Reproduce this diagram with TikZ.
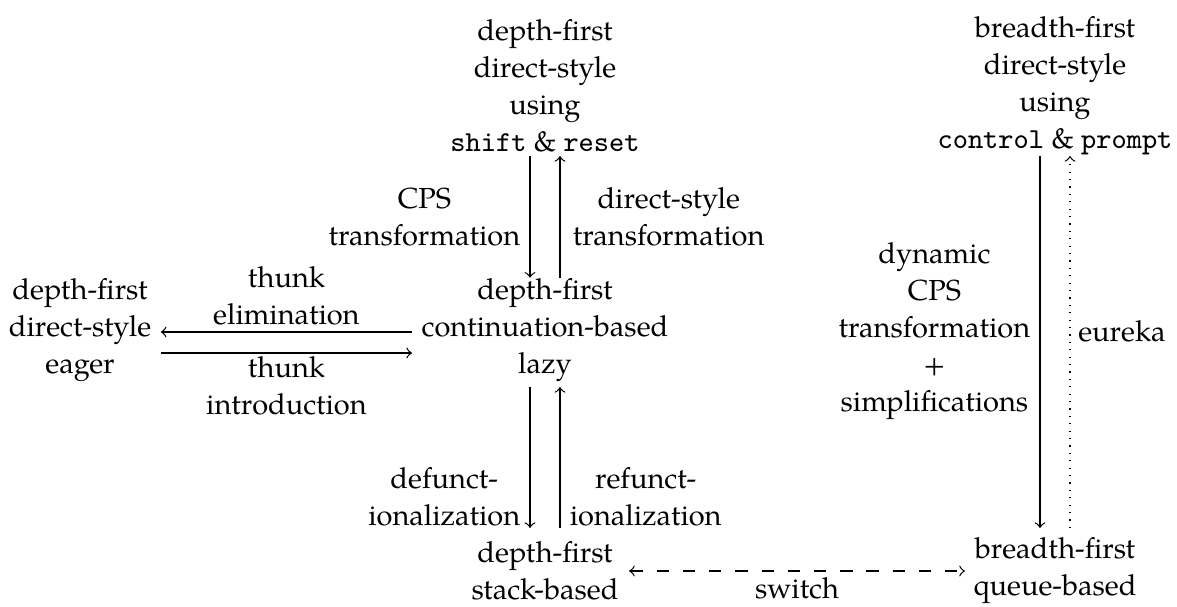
\documentclass[tikz,border=0pt]{standalone}
\usepackage{fontspec}
\setmainfont{TeX Gyre Pagella}
\usetikzlibrary{calc}
\begin{document}
\begin{tikzpicture}[x=0.3243pt,y=-0.3243pt,
  every node/.style={font=\fontsize{9.4}{12}\selectfont},
  lbl/.style={align=center,inner sep=0pt},
  arr/.style={->,>=to,line width=0.4pt},
  elbl/.style={align=center,inner sep=0pt}]
\useasboundingbox (0,0) rectangle (1177,606);
\node[lbl] (dsr) at (545,86) {depth-first\\direct-style\\using\\\texttt{shift} \& \texttt{reset}};
\node[lbl] (cp) at (1055,86) {breadth-first\\direct-style\\using\\\texttt{control} \& \texttt{prompt}};
\node[lbl] (cb) at (545,330) {depth-first\\continuation-based\\lazy};
\node[lbl] (eager) at (80,330) {depth-first\\direct-style\\eager};
\node[lbl] (sb) at (545,571) {depth-first\\stack-based};
\node[lbl] (qb) at (1055,571) {breadth-first\\queue-based};
% helper coordinates (column offsets relative to nodes)
\coordinate (dL) at ($(dsr.south)+(-15,0)$);
\coordinate (dR) at ($(dsr.south)+(15,0)$);
\coordinate (cL) at ($(cp.south)+(-15,0)$);
\coordinate (cR) at ($(cp.south)+(15,0)$);
\coordinate (eE) at ($(eager.east)+(9,0)$);
\coordinate (bW) at ($(cb.west)+(-9,0)$);
% top pair
\draw[arr] (dL |- 0,156) -- node[elbl,midway,left=3pt] {CPS\\transformation} (dL |- cb.north);
\draw[arr] (dR |- cb.north) -- node[elbl,midway,right=4pt] {direct-style\\transformation} (dR |- 0,156);
% bottom pair
\draw[arr] (dL |- 0,387) -- node[elbl,pos=0.78,left=3pt] {defunct-\\ionalization} (dL |- 0,528);
\draw[arr] (dR |- 0,528) -- node[elbl,pos=0.22,right=3pt] {refunct-\\ionalization} (dR |- 0,387);
% horizontal pair
\draw[arr] (bW |- 0,332) -- node[elbl,midway,above=2pt] {thunk\\elimination} (eE |- 0,332);
\draw[arr] (eE |- 0,353) -- node[elbl,midway,below=1pt] {thunk\\introduction} (bW |- 0,353);
% right side
\draw[arr] (cL |- 0,156) -- node[elbl,pos=0.47,left=3pt] {dynamic\\CPS\\transformation\\+\\simplifications} (cL |- 0,528);
\draw[arr,dotted] (cR |- 0,528) -- node[elbl,pos=0.53,right=2.5pt] {eureka} (cR |- 0,156);
% switch
\draw[<->,>=to,dash pattern=on 4pt off 4.5pt] ($(sb.east)+(10,0)$) -- node[elbl,midway,below=2pt] {switch} ($(qb.west)+(-8,0)$);
\end{tikzpicture}
\end{document}
